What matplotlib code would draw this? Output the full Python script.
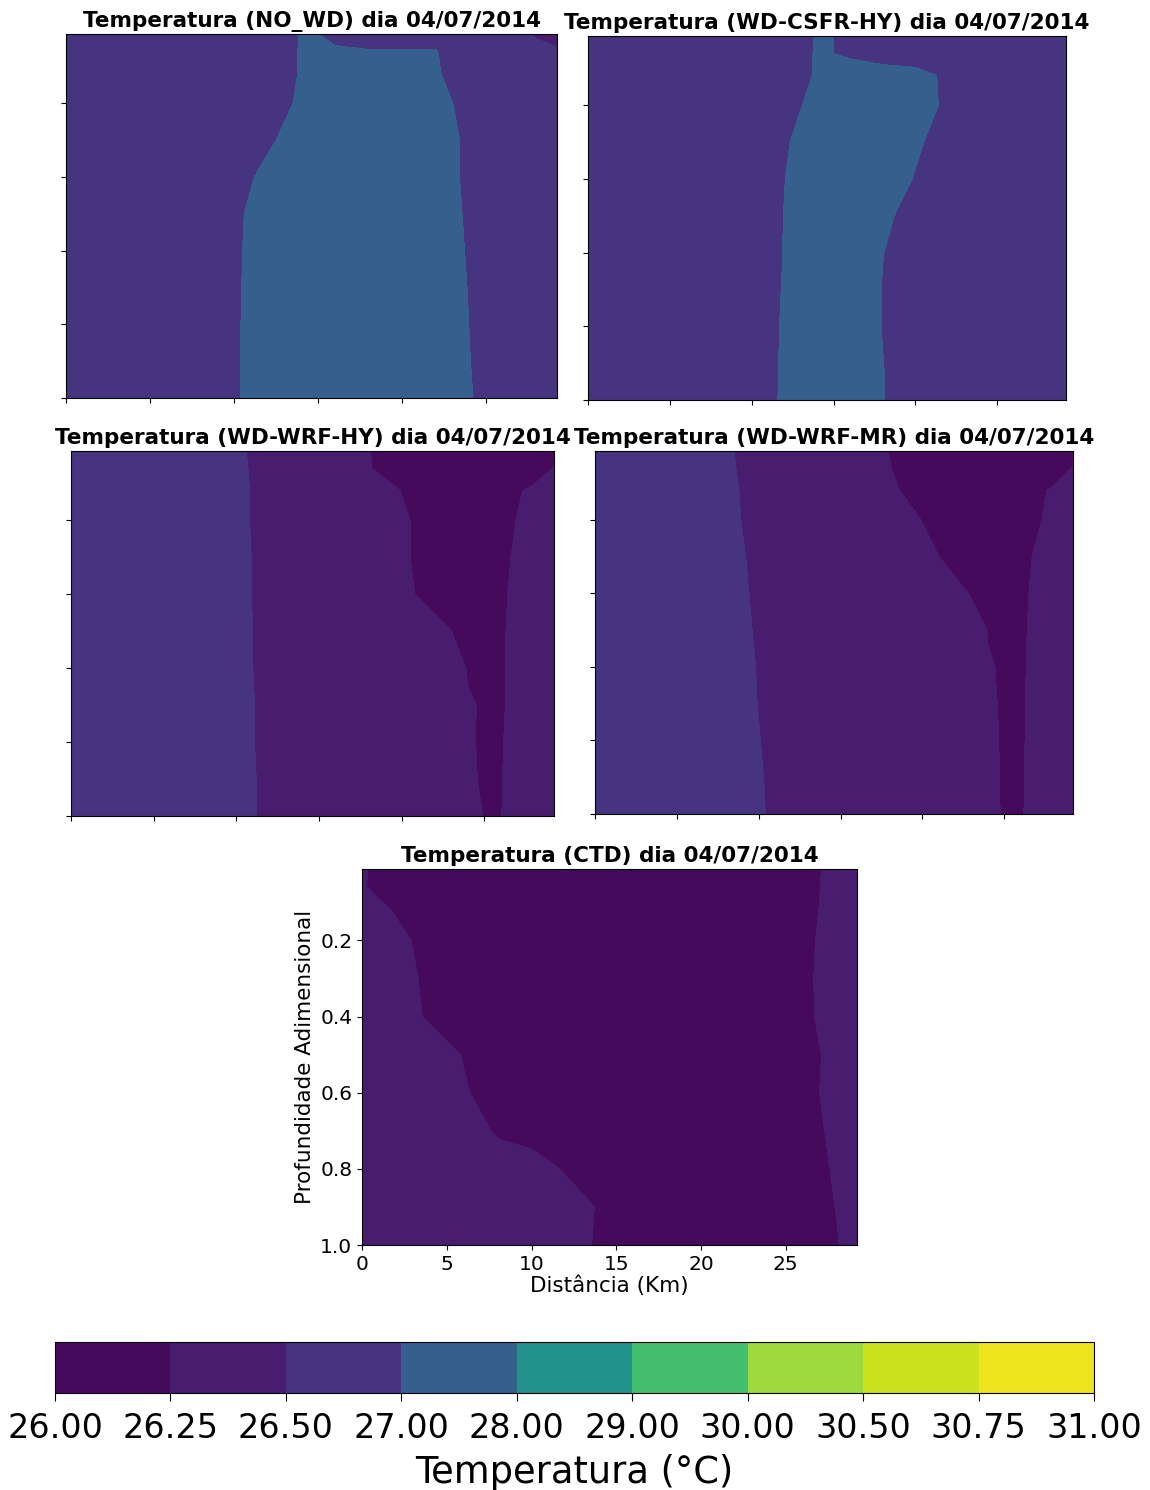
import matplotlib
matplotlib.use("Agg")
import matplotlib.pyplot as plt
import numpy as np

# temperature classes (°C) used for every section
levels = [26.0, 26.25, 26.5, 27.0, 28.0, 29.0, 30.0, 30.5, 30.75, 31.0]

# section nodes: distance along the transect (km) and dimensionless depth
dist_km = [0, 2, 4, 6, 8, 10, 12, 14, 16, 18, 20, 22, 24, 26, 28, 29.2]
depth = [0.0125, 0.06, 0.12, 0.2, 0.3, 0.4, 0.5, 0.6, 0.7, 0.8, 0.9, 1.0]

# temperature at the nodes, one row per depth level
temp_no_wd = [
    [26.75, 26.75, 26.75, 26.75, 26.75, 26.75, 26.75, 27.02, 26.98, 26.85, 26.85, 26.80, 26.75, 26.75, 26.42, 26.35],
    [26.75, 26.75, 26.75, 26.75, 26.75, 26.75, 26.75, 27.03, 27.01, 27.02, 27.02, 27.02, 26.64, 26.75, 26.70, 26.55],
    [26.75, 26.75, 26.75, 26.75, 26.75, 26.75, 26.75, 27.03, 27.30, 27.30, 27.30, 27.06, 26.66, 26.75, 26.75, 26.75],
    [26.75, 26.75, 26.75, 26.75, 26.75, 26.75, 26.70, 27.10, 27.40, 27.40, 27.40, 27.20, 26.80, 26.75, 26.75, 26.75],
    [26.75, 26.75, 26.75, 26.75, 26.75, 26.75, 26.90, 27.30, 27.50, 27.50, 27.50, 27.28, 26.88, 26.75, 26.75, 26.75],
    [26.75, 26.75, 26.75, 26.75, 26.75, 26.76, 27.16, 27.50, 27.50, 27.50, 27.50, 27.28, 26.88, 26.75, 26.75, 26.75],
    [26.75, 26.75, 26.75, 26.75, 26.75, 26.88, 27.28, 27.50, 27.50, 27.50, 27.50, 27.31, 26.91, 26.75, 26.75, 26.75],
    [26.75, 26.75, 26.75, 26.75, 26.75, 26.90, 27.30, 27.50, 27.50, 27.50, 27.50, 27.34, 26.94, 26.75, 26.75, 26.75],
    [26.75, 26.75, 26.75, 26.75, 26.75, 26.91, 27.31, 27.50, 27.50, 27.50, 27.50, 27.37, 26.97, 26.75, 26.75, 26.75],
    [26.75, 26.75, 26.75, 26.75, 26.75, 26.92, 27.32, 27.50, 27.50, 27.50, 27.50, 27.39, 26.99, 26.75, 26.75, 26.75],
    [26.75, 26.75, 26.75, 26.75, 26.75, 26.92, 27.32, 27.50, 27.50, 27.50, 27.50, 27.40, 27.01, 26.61, 26.75, 26.75],
    [26.75, 26.75, 26.75, 26.75, 26.75, 26.93, 27.33, 27.50, 27.50, 27.50, 27.50, 27.40, 27.04, 26.64, 26.75, 26.75],
]

temp_wd_csfr_hy = [
    [26.75, 26.75, 26.75, 26.75, 26.75, 26.75, 26.80, 27.02, 26.98, 26.75, 26.75, 26.75, 26.75, 26.75, 26.75, 26.75],
    [26.75, 26.75, 26.75, 26.75, 26.75, 26.75, 26.80, 27.03, 26.97, 26.90, 26.75, 26.75, 26.75, 26.75, 26.75, 26.75],
    [26.75, 26.75, 26.75, 26.75, 26.75, 26.75, 26.66, 27.06, 27.10, 27.10, 27.15, 26.92, 26.75, 26.75, 26.75, 26.75],
    [26.75, 26.75, 26.75, 26.75, 26.75, 26.75, 26.78, 27.18, 27.40, 27.40, 27.28, 26.88, 26.75, 26.75, 26.75, 26.75],
    [26.75, 26.75, 26.75, 26.75, 26.75, 26.75, 26.93, 27.33, 27.50, 27.50, 27.10, 26.70, 26.75, 26.75, 26.75, 26.75],
    [26.75, 26.75, 26.75, 26.75, 26.75, 26.75, 26.99, 27.39, 27.50, 27.36, 26.96, 26.75, 26.75, 26.75, 26.75, 26.75],
    [26.75, 26.75, 26.75, 26.75, 26.75, 26.75, 27.01, 27.40, 27.40, 27.14, 26.74, 26.75, 26.75, 26.75, 26.75, 26.75],
    [26.75, 26.75, 26.75, 26.75, 26.75, 26.62, 27.02, 27.40, 27.40, 27.01, 26.75, 26.75, 26.75, 26.75, 26.75, 26.75],
    [26.75, 26.75, 26.75, 26.75, 26.75, 26.64, 27.04, 27.40, 27.38, 26.98, 26.75, 26.75, 26.75, 26.75, 26.75, 26.75],
    [26.75, 26.75, 26.75, 26.75, 26.75, 26.66, 27.06, 27.40, 27.38, 26.98, 26.75, 26.75, 26.75, 26.75, 26.75, 26.75],
    [26.75, 26.75, 26.75, 26.75, 26.75, 26.67, 27.07, 27.40, 27.40, 27.01, 26.75, 26.75, 26.75, 26.75, 26.75, 26.75],
    [26.75, 26.75, 26.75, 26.75, 26.75, 26.68, 27.08, 27.40, 27.40, 27.02, 26.62, 26.75, 26.75, 26.75, 26.75, 26.75],
]

temp_wd_wrf_hy = [
    [26.70, 26.70, 26.70, 26.70, 26.70, 26.56, 26.36, 26.40, 26.40, 26.26, 26.06, 26.10, 26.10, 26.10, 26.10, 26.12],
    [26.70, 26.70, 26.70, 26.70, 26.70, 26.57, 26.37, 26.40, 26.40, 26.27, 26.07, 26.10, 26.10, 26.10, 26.07, 26.27],
    [26.70, 26.70, 26.70, 26.70, 26.70, 26.58, 26.38, 26.40, 26.40, 26.44, 26.24, 26.12, 26.12, 26.12, 26.32, 26.38],
    [26.70, 26.70, 26.70, 26.70, 26.70, 26.58, 26.38, 26.40, 26.40, 26.40, 26.30, 26.10, 26.12, 26.16, 26.36, 26.40],
    [26.70, 26.70, 26.70, 26.70, 26.70, 26.59, 26.39, 26.40, 26.40, 26.40, 26.30, 26.10, 26.12, 26.19, 26.39, 26.40],
    [26.70, 26.70, 26.70, 26.70, 26.70, 26.59, 26.39, 26.40, 26.40, 26.40, 26.33, 26.13, 26.12, 26.21, 26.41, 26.40],
    [26.70, 26.70, 26.70, 26.70, 26.70, 26.60, 26.40, 26.40, 26.40, 26.40, 26.40, 26.35, 26.15, 26.22, 26.42, 26.40],
    [26.70, 26.70, 26.70, 26.70, 26.70, 26.60, 26.40, 26.40, 26.40, 26.40, 26.40, 26.40, 26.24, 26.22, 26.42, 26.40],
    [26.70, 26.70, 26.70, 26.70, 26.70, 26.61, 26.41, 26.40, 26.40, 26.40, 26.40, 26.40, 26.26, 26.22, 26.45, 26.40],
    [26.70, 26.70, 26.70, 26.70, 26.70, 26.61, 26.41, 26.40, 26.40, 26.40, 26.40, 26.40, 26.253, 26.24, 26.37, 26.40],
    [26.70, 26.70, 26.70, 26.70, 26.70, 26.62, 26.42, 26.40, 26.40, 26.40, 26.40, 26.40, 26.254, 26.24, 26.44, 26.40],
    [26.70, 26.70, 26.70, 26.70, 26.70, 26.62, 26.42, 26.40, 26.40, 26.40, 26.40, 26.40, 26.254, 26.245, 26.45, 26.40],
]

temp_wd_wrf_mr = [
    [26.70, 26.70, 26.70, 26.70, 26.55, 26.35, 26.40, 26.40, 26.44, 26.24, 26.12, 26.12, 26.12, 26.12, 26.12, 26.12],
    [26.70, 26.70, 26.70, 26.70, 26.56, 26.36, 26.40, 26.40, 26.40, 26.26, 26.06, 26.12, 26.12, 26.12, 26.07, 26.27],
    [26.70, 26.70, 26.70, 26.70, 26.58, 26.38, 26.40, 26.40, 26.40, 26.31, 26.11, 26.12, 26.12, 26.09, 26.29, 26.40],
    [26.70, 26.70, 26.70, 26.70, 26.59, 26.39, 26.40, 26.40, 26.40, 26.44, 26.24, 26.12, 26.12, 26.12, 26.32, 26.40],
    [26.70, 26.70, 26.70, 26.70, 26.62, 26.42, 26.40, 26.40, 26.40, 26.40, 26.35, 26.15, 26.15, 26.18, 26.38, 26.40],
    [26.70, 26.70, 26.70, 26.70, 26.64, 26.44, 26.40, 26.40, 26.40, 26.40, 26.40, 26.33, 26.13, 26.20, 26.40, 26.40],
    [26.70, 26.70, 26.70, 26.70, 26.66, 26.46, 26.40, 26.40, 26.40, 26.40, 26.40, 26.40, 26.245, 26.21, 26.41, 26.40],
    [26.70, 26.70, 26.70, 26.70, 26.68, 26.48, 26.40, 26.40, 26.40, 26.40, 26.40, 26.40, 26.258, 26.22, 26.40, 26.40],
    [26.70, 26.70, 26.70, 26.70, 26.70, 26.49, 26.40, 26.40, 26.40, 26.40, 26.40, 26.40, 26.26, 26.225, 26.39, 26.40],
    [26.70, 26.70, 26.70, 26.70, 26.70, 26.51, 26.31, 26.40, 26.40, 26.40, 26.40, 26.40, 26.26, 26.23, 26.38, 26.40],
    [26.70, 26.70, 26.70, 26.70, 26.70, 26.53, 26.33, 26.40, 26.40, 26.40, 26.40, 26.40, 26.258, 26.235, 26.37, 26.40],
    [26.70, 26.70, 26.70, 26.70, 26.70, 26.54, 26.34, 26.40, 26.40, 26.40, 26.40, 26.40, 26.256, 26.24, 26.34, 26.40],
]

temp_ctd = [
    [26.285, 26.085, 26.10, 26.10, 26.10, 26.10, 26.10, 26.10, 26.10, 26.10, 26.10, 26.10, 26.10, 26.14, 26.34, 26.40],
    [26.275, 26.075, 26.10, 26.10, 26.10, 26.10, 26.10, 26.10, 26.10, 26.10, 26.10, 26.10, 26.10, 26.145, 26.345, 26.40],
    [26.42, 26.22, 26.10, 26.10, 26.10, 26.10, 26.10, 26.10, 26.10, 26.10, 26.10, 26.10, 26.10, 26.155, 26.355, 26.40],
    [26.40, 26.34, 26.14, 26.10, 26.10, 26.10, 26.10, 26.10, 26.10, 26.10, 26.10, 26.10, 26.10, 26.175, 26.375, 26.40],
    [26.40, 26.38, 26.18, 26.10, 26.10, 26.10, 26.10, 26.10, 26.10, 26.10, 26.10, 26.10, 26.10, 26.185, 26.385, 26.40],
    [26.40, 26.405, 26.205, 26.10, 26.10, 26.10, 26.10, 26.10, 26.10, 26.10, 26.10, 26.10, 26.10, 26.18, 26.38, 26.40],
    [26.40, 26.40, 26.43, 26.23, 26.10, 26.10, 26.10, 26.10, 26.10, 26.10, 26.10, 26.10, 26.10, 26.14, 26.34, 26.40],
    [26.40, 26.40, 26.40, 26.285, 26.085, 26.10, 26.10, 26.10, 26.10, 26.10, 26.10, 26.10, 26.10, 26.15, 26.35, 26.40],
    [26.40, 26.40, 26.40, 26.41, 26.21, 26.10, 26.10, 26.10, 26.10, 26.10, 26.10, 26.10, 26.10, 26.12, 26.32, 26.40],
    [26.40, 26.40, 26.40, 26.40, 26.40, 26.415, 26.215, 26.10, 26.10, 26.10, 26.10, 26.10, 26.10, 26.09, 26.29, 26.40],
    [26.40, 26.40, 26.40, 26.40, 26.40, 26.40, 26.42, 26.22, 26.10, 26.10, 26.10, 26.10, 26.10, 26.06, 26.26, 26.40],
    [26.40, 26.40, 26.40, 26.40, 26.40, 26.40, 26.405, 26.205, 26.10, 26.10, 26.10, 26.10, 26.10, 26.10, 26.225, 26.425],
]

runs = ["NO_WD", "WD-CSFR-HY", "WD-WRF-HY", "WD-WRF-MR", "CTD"]
fields = [temp_no_wd, temp_wd_csfr_hy, temp_wd_wrf_hy, temp_wd_wrf_mr, temp_ctd]
date = "04/07/2014"

# axes boxes [left, bottom, width, height] in figure fractions
boxes = [
    [0.0574, 0.7329, 0.4270, 0.2443],
    [0.5113, 0.7315, 0.4157, 0.2443],
    [0.0617, 0.4523, 0.4200, 0.2450],
    [0.5174, 0.4537, 0.4157, 0.2436],
    [0.3148, 0.1644, 0.4304, 0.2523],
]

fig = plt.figure(figsize=(11.5, 14.9), dpi=100)
X, Y = np.meshgrid(dist_km, depth)

cs = None
for run, temp, box in zip(runs, fields, boxes):
    ax = fig.add_axes(box)
    cs = ax.contourf(X, Y, np.array(temp), levels=levels, cmap="viridis")
    ax.set_xlim(0, 29.2)
    ax.set_ylim(1.0, 0.0125)
    ax.set_xticks([0, 5, 10, 15, 20, 25])
    ax.set_yticks([0.2, 0.4, 0.6, 0.8, 1.0])
    ax.set_title(f"Temperatura ({run}) dia {date}", fontsize=15.5,
                 fontweight="bold", pad=5)
    if run == "CTD":
        ax.tick_params(labelsize=14.5)
        ax.set_xlabel("Distância (Km)", fontsize=15.5, labelpad=1)
        ax.set_ylabel("Profundidade Adimensional", fontsize=15.5)
    else:
        ax.tick_params(labelbottom=False, labelleft=False)

cax = fig.add_axes([0.0478, 0.0651, 0.9035, 0.0342])
cbar = fig.colorbar(cs, cax=cax, orientation="horizontal", ticks=levels, format="%.2f")
cbar.ax.tick_params(labelsize=24, length=6, pad=8)
cbar.set_label("Temperatura (°C)", fontsize=26.5, labelpad=6)

fig.savefig("out.png", dpi=100)
